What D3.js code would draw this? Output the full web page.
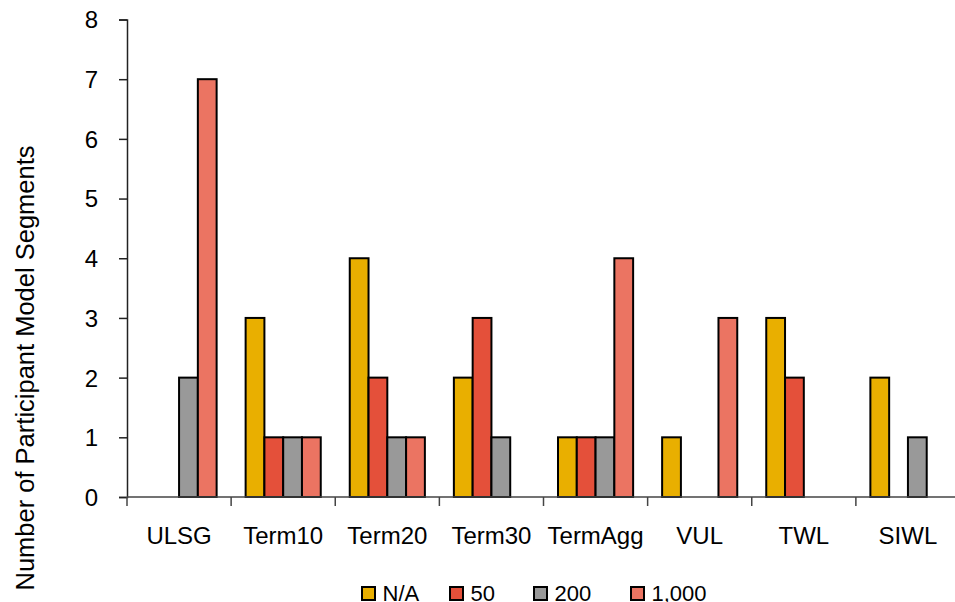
<!DOCTYPE html>
<html><head><meta charset="utf-8">
<script src="https://cdn.jsdelivr.net/npm/d3@7"></script>
<style>body{margin:0;background:#fff;}svg{display:block;font-family:Arial,"Liberation Sans",sans-serif;}</style>
</head><body>
<svg id="c" width="955" height="602"></svg>
<script>
const categories = ["ULSG","Term10","Term20","Term30","TermAgg","VUL","TWL","SIWL"];
const seriesNames = ["N/A","50","200","1,000"];
const seriesNA   = [0,3,4,2,1,1,3,2];
const series50   = [0,1,2,3,1,0,2,0];
const series200  = [2,1,1,1,1,0,0,1];
const series1000 = [7,1,1,0,4,3,0,0];
const yTicks = [0,1,2,3,4,5,6,7,8];
const colors = ["#E9AF00","#E4503A","#999999","#EB7462"];

const allSeries = [seriesNA, series50, series200, series1000];
const svg = d3.select("#c");
const pLeft = 127, pRight = 960, pTop = 19.5, pBottom = 497;
const FF = "Arial, 'Liberation Sans', sans-serif";

const x = d3.scaleBand().domain(categories).range([pLeft, pRight]).padding(0);
const xi = d3.scaleBand().domain(seriesNames).range([14.5, x.bandwidth() - 14.5]).padding(0);
const y = d3.scaleLinear().domain([0, 8]).range([pBottom, pTop]);

// bars
categories.forEach((c, ci) => {
  const g = svg.append("g").attr("transform", `translate(${x(c)},0)`);
  seriesNames.forEach((s, si) => {
    const v = allSeries[si][ci];
    if (v <= 0) return;
    g.append("rect")
      .attr("x", xi(s)).attr("width", xi.bandwidth())
      .attr("y", y(v)).attr("height", y(0) - y(v))
      .attr("fill", colors[si]).attr("stroke", "#000").attr("stroke-width", 2);
  });
});

// y axis
const yAxis = svg.append("g").attr("transform", `translate(${pLeft},0)`)
  .call(d3.axisLeft(y).tickValues(yTicks).tickSize(8).tickPadding(21).tickFormat(d3.format("d")));
yAxis.selectAll("text").attr("font-size", 24).attr("fill", "#000").attr("font-family", FF).attr("dy", "0.35em");
yAxis.selectAll("line,path").attr("stroke", "#222").attr("stroke-width", 1.5);

// x axis
const xAxis = svg.append("g").attr("transform", `translate(0,${pBottom})`);
xAxis.append("line").attr("x1", pLeft).attr("x2", pRight).attr("y1", 0).attr("y2", 0).attr("stroke", "#444").attr("stroke-width", 1.5);
xAxis.selectAll("line.tk").data(categories).enter().append("line").attr("class","tk")
  .attr("x1", d => x(d)).attr("x2", d => x(d)).attr("y1", 0).attr("y2", 9)
  .attr("stroke", "#444").attr("stroke-width", 1.5);
xAxis.selectAll("text").data(categories).enter().append("text")
  .attr("x", d => x(d) + x.bandwidth()/2).attr("y", 46.5)
  .attr("text-anchor", "middle").attr("font-size", 24).attr("fill", "#000").text(d => d);

// y title
svg.append("text").attr("transform", "translate(33.5,368) rotate(-90)")
  .attr("text-anchor", "middle").attr("font-size", 25.5).attr("fill", "#000")
  .text("Number of Participant Model Segments");

// legend
const legX = [362, 450, 534, 631];
const leg = svg.append("g");
seriesNames.forEach((s, i) => {
  leg.append("rect").attr("x", legX[i]).attr("y", 587).attr("width", 13).attr("height", 13)
    .attr("fill", colors[i]).attr("stroke", "#000").attr("stroke-width", 2);
  leg.append("text").attr("x", legX[i] + 20.5).attr("y", 600.5).attr("font-size", 22).attr("fill", "#000").text(s);
});
</script>
</body></html>
